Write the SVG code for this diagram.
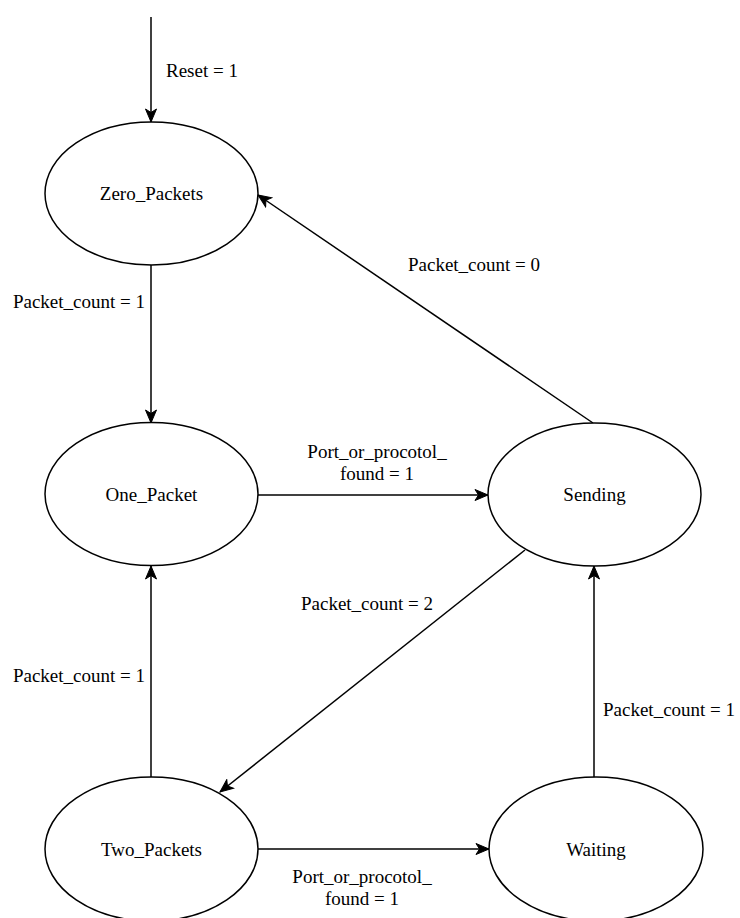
<svg xmlns="http://www.w3.org/2000/svg" width="740" height="918" viewBox="0 0 740 918">
<style>
.node{fill:#ffffff;stroke:#000000;stroke-width:1.5}
.lbl{font-family:'Liberation Serif','Times New Roman',Times,'DejaVu Serif',serif;font-size:19px;fill:#000000}
.edge{fill:none;stroke:#000000;stroke-width:1.5;marker-end:url(#arr)}
</style>
<defs>
<marker id="arr" viewBox="-1 -1 15 13" refX="13" refY="5.5" markerWidth="15" markerHeight="13" markerUnits="userSpaceOnUse" orient="auto">
<path d="M0,0 L13,5.5 L0,11 L3.5,5.5 Z" fill="#000000" stroke="#000000" stroke-width="1" stroke-linejoin="miter"/>
</marker>
</defs>
<rect width="740" height="918" fill="#ffffff"/>
<g id="edges">
<line class="edge" x1="151" y1="17" x2="151" y2="122"/>
<line class="edge" x1="151" y1="265" x2="151" y2="423"/>
<line class="edge" x1="258" y1="495" x2="488" y2="495"/>
<line class="edge" x1="593" y1="423" x2="258" y2="195"/>
<line class="edge" x1="525" y1="550" x2="220" y2="792"/>
<line class="edge" x1="594" y1="778" x2="594" y2="566"/>
<line class="edge" x1="151" y1="777" x2="151" y2="566"/>
<line class="edge" x1="258" y1="849" x2="489" y2="849"/>
<text class="lbl" x="166" y="77">Reset = 1</text>
<text class="lbl" x="145" y="308" text-anchor="end">Packet_count = 1</text>
<text class="lbl" x="377" y="458" text-anchor="middle">Port_or_procotol_</text>
<text class="lbl" x="377" y="480" text-anchor="middle">found = 1</text>
<text class="lbl" x="474" y="271" text-anchor="middle">Packet_count = 0</text>
<text class="lbl" x="367" y="610" text-anchor="middle">Packet_count = 2</text>
<text class="lbl" x="145" y="682" text-anchor="end">Packet_count = 1</text>
<text class="lbl" x="603" y="716">Packet_count = 1</text>
<text class="lbl" x="362" y="883" text-anchor="middle">Port_or_procotol_</text>
<text class="lbl" x="362" y="905" text-anchor="middle">found = 1</text>
</g>
<g id="zero_packets">
<ellipse class="node" cx="151.5" cy="193.5" rx="106.5" ry="71.5"/>
<text class="lbl" x="151.5" y="200" text-anchor="middle">Zero_Packets</text>
</g>
<g id="one_packet">
<ellipse class="node" cx="151.5" cy="494" rx="106.5" ry="71.5"/>
<text class="lbl" x="151.5" y="501" text-anchor="middle">One_Packet</text>
</g>
<g id="sending">
<ellipse class="node" cx="594.5" cy="494.5" rx="106.5" ry="71.5"/>
<text class="lbl" x="594.5" y="501" text-anchor="middle">Sending</text>
</g>
<g id="two_packets">
<ellipse class="node" cx="151.5" cy="849" rx="106.5" ry="72"/>
<text class="lbl" x="151.5" y="856" text-anchor="middle">Two_Packets</text>
</g>
<g id="waiting">
<ellipse class="node" cx="596" cy="849" rx="107" ry="72"/>
<text class="lbl" x="596" y="856" text-anchor="middle">Waiting</text>
</g>
</svg>
